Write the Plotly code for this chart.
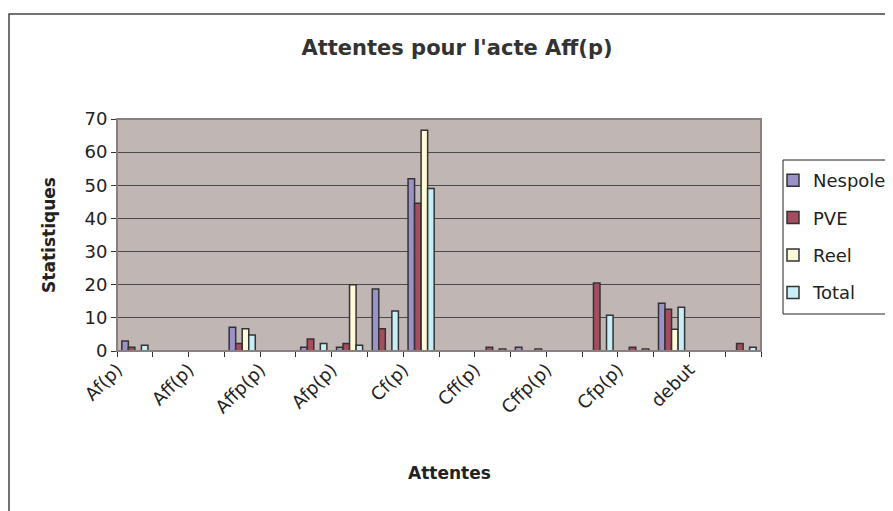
import plotly.graph_objects as go

# 18 categories; only every other label is shown on the axis (as in the source chart)
tick_labels = ["Af(p)", "Aff(p)", "Affp(p)", "Afp(p)", "Cf(p)", "Cff(p)", "Cffp(p)", "Cfp(p)", "debut"]
n_categories = 18

nespole = [3.0, 0, 0, 7.2, 0, 1.1, 1.1, 18.7, 52.0, 0, 0, 1.1, 0, 0, 0, 14.4, 0, 0]
pve     = [1.1, 0, 0, 2.3, 0, 3.6, 2.3, 6.7, 44.6, 0, 1.1, 0, 0, 20.5, 1.1, 12.6, 0, 2.3]
reel    = [0, 0, 0, 6.7, 0, 0, 20.0, 0, 66.6, 0, 0, 0, 0, 0, 0, 6.6, 0, 0]
total   = [1.7, 0, 0, 4.8, 0, 2.3, 1.7, 12.1, 49.0, 0, 0.6, 0.6, 0, 10.8, 0.6, 13.2, 0, 1.1]

series = [
    ("Nespole", nespole, "#9A92C8"),
    ("PVE", pve, "#A44D5F"),
    ("Reel", reel, "#FFFBD8"),
    ("Total", total, "#C8EEF8"),
]

x = list(range(n_categories))
FONT = "DejaVu Sans, Liberation Sans, Arial, sans-serif"

fig = go.Figure()
for name, vals, color in series:
    fig.add_trace(go.Bar(
        x=x, y=[v if v else None for v in vals], name=name, legendgroup=name,
        marker=dict(color=color, line=dict(color="#333333", width=1.5)),
    ))

# The page body has an 8px margin; figure is sized so it fits the 893x511 window.
OFF = 8
W, H = 893 - OFF, 511 - OFF
PL, PR, PT, PB = 117, 761, 119, 351   # plot area in window pixels
L, R, T, B = PL - OFF, W - (PR - OFF), PT - OFF, H - (PB - OFF)
pw, ph = PR - PL, PB - PT

def px_x(p):
    return (p - PL) / pw

def px_y(p):
    return (PB - p) / ph

fig.update_layout(
    width=W, height=H,
    margin=dict(l=L, r=R, t=T, b=B, autoexpand=False),
    paper_bgcolor="white",
    plot_bgcolor="#C0B6B4",
    barmode="group", bargap=0.27, bargroupgap=0,
    font=dict(family=FONT, size=17, color="#222222"),
    title=dict(text="<b>Attentes pour l'acte Aff(p)</b>", x=(457 - OFF) / W, xref="container",
               y=1 - (48 - OFF) / H, yref="container", xanchor="center", yanchor="middle",
               font=dict(size=21, color="#333333", family=FONT)),
    showlegend=True,
    legend=dict(x=px_x(773), y=px_y(162), xanchor="left", yanchor="top",
                bgcolor="rgba(0,0,0,0)", borderwidth=0,
                font=dict(size=18, color="#222222"), tracegroupgap=11,
                itemwidth=30),
    xaxis=dict(
        range=[-0.5, n_categories - 0.5],
        tickmode="array", tickvals=[i - 0.5 for i in range(0, n_categories, 2)], ticktext=tick_labels,
        ticks="", tickangle=-45, tickfont=dict(size=18, color="#222222"),
        showgrid=False, zeroline=False,
        showline=True, linecolor="#333333", linewidth=1,
        minor=dict(tick0=-0.5, dtick=1, ticks="outside", ticklen=5, tickcolor="#333333", showgrid=False),
        fixedrange=True,
    ),
    yaxis=dict(
        range=[0, 70], dtick=10, ticks="outside", ticklen=5, tickcolor="#333333",
        tickfont=dict(size=18, color="#222222"),
        showgrid=True, gridcolor="#4A4A4A", gridwidth=1, zeroline=False,
        showline=True, linecolor="#333333", linewidth=1,
        title=dict(text="<b>Statistiques</b>", font=dict(size=17, color="#222222"), standoff=24),
        fixedrange=True,
    ),
    annotations=[dict(text="<b>Attentes</b>", xref="paper", yref="paper",
                      x=px_x(450), y=px_y(473), showarrow=False,
                      font=dict(size=17, color="#222222"), xanchor="center", yanchor="middle")],
    shapes=[
        dict(type="rect", xref="paper", yref="paper", x0=0, x1=1, y0=0, y1=1,
             line=dict(color="#8A8080", width=2), layer="above"),
        dict(type="rect", xref="paper", yref="paper", x0=px_x(783), x1=px_x(891),
             y0=px_y(314), y1=px_y(160), line=dict(color="#222222", width=1), layer="above"),
        dict(type="rect", xref="paper", yref="paper", x0=px_x(9), x1=px_x(893 + 20),
             y0=px_y(511 + 20), y1=px_y(14), line=dict(color="#444444", width=1.5), layer="above"),
    ],
)

fig.write_html("out.html")
